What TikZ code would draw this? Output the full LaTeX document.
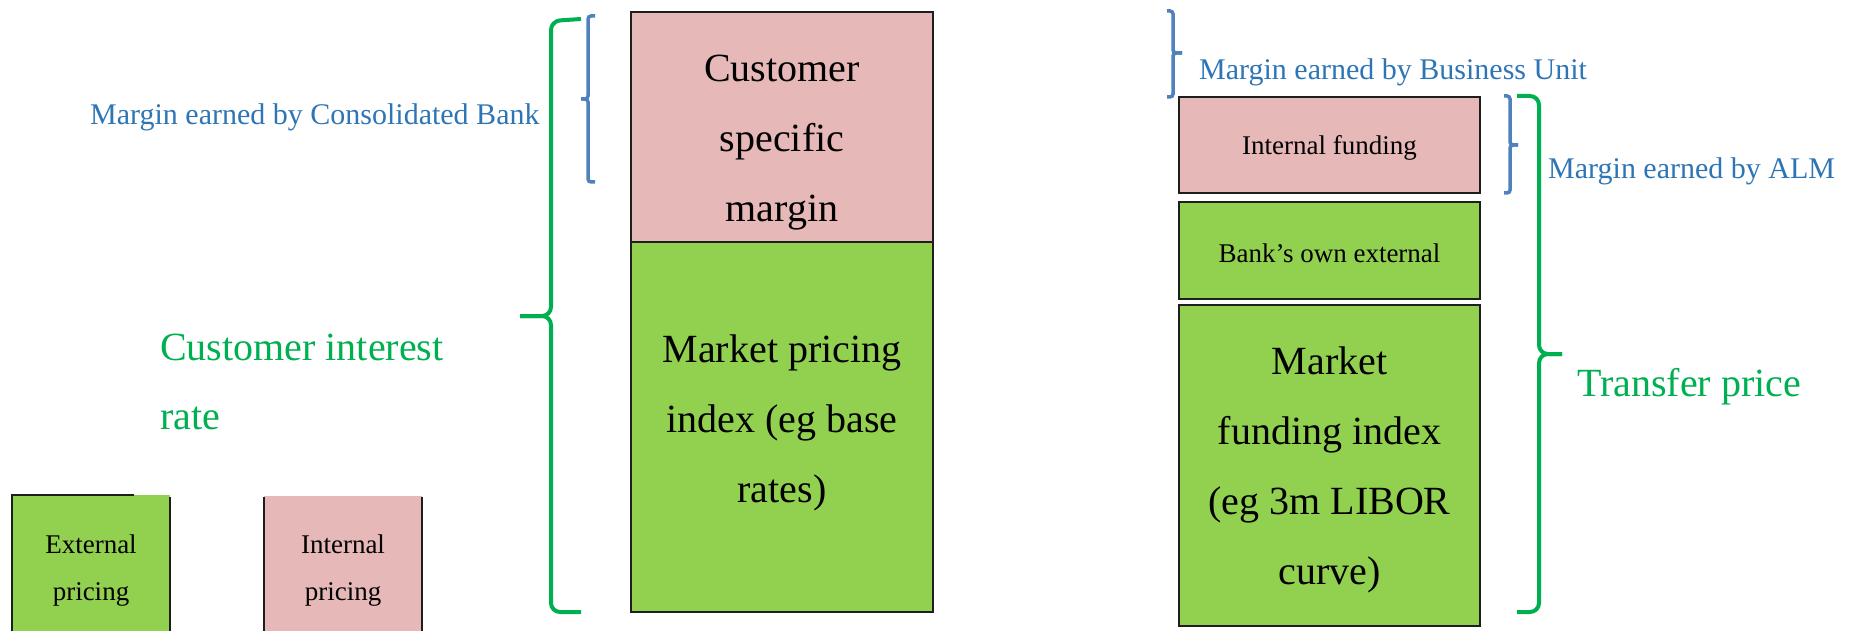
\documentclass[tikz,border=0pt]{standalone}
\usepackage{fontspec}
\setmainfont{Liberation Serif}
\definecolor{pinkf}{HTML}{E6B9B8}
\definecolor{greenf}{HTML}{92D050}
\definecolor{bluet}{HTML}{2E75B6}
\definecolor{blueb}{HTML}{4F81BD}
\definecolor{greent}{HTML}{00B050}
\definecolor{edge}{HTML}{1E1E1E}
\begin{document}
\begin{tikzpicture}[x=1pt,y=-1pt,
 box/.style={draw=edge, line width=2.5pt, inner sep=0pt, outer sep=0pt, anchor=north west},
 bigtxt/.style={font=\fontsize{40}{70}\selectfont, align=center, anchor=base, inner sep=0pt},
 smalltxt/.style={font=\fontsize{27}{47}\selectfont, align=center, anchor=base, inner sep=0pt},
 lbl/.style={font=\fontsize{30}{36}\selectfont, text=bluet, anchor=base west, inner sep=0pt},
 glbl/.style={font=\fontsize{40}{69}\selectfont, text=greent, anchor=base west, inner sep=0pt, align=left},
 gbrace/.style={draw=greent, line width=4pt, rounded corners=9pt},
 bbrace/.style={draw=blueb, line width=3.5pt, rounded corners=3pt},
 edgeline/.style={draw=edge, line width=2.5pt}]
\useasboundingbox (0,0) rectangle (1852,631);
\clip (0,0) rectangle (1852,631);

% main customer column
\node[box, fill=pinkf, minimum width=302pt, minimum height=230pt] (csm) at (631,12) {};
\node[box, fill=greenf, minimum width=302pt, minimum height=370pt] (mpi) at (631,242) {};
% multi-line nodes: base anchor = baseline of the last line
\node[bigtxt] (tcsm) at (782,222) {Customer\\specific\\margin};
\node[bigtxt] (tmpi) at (782,502) {Market pricing\\index (eg base\\rates)};

% transfer price column
\node[box, fill=pinkf, minimum width=301pt, minimum height=96pt] (intf) at (1179,97) {};
\node[box, fill=greenf, minimum width=301pt, minimum height=97pt] (bank) at (1179,202) {};
\node[box, fill=greenf, minimum width=301pt, minimum height=321pt] (mfi) at (1179,305) {};
\node[smalltxt] (tintf) at (1329.5,155) {Internal funding};
\node[smalltxt] (tbank) at (1329.5,262) {Bank’s own external};
\node[bigtxt] (tmfi) at (1329.5,584) {Market\\funding index\\(eg 3m LIBOR\\curve)};

% legend boxes
\fill[greenf] (12,495) rectangle (170,640);
\draw[edgeline] (12,640) -- (12,495) -- (134,495);
\draw[edgeline] (170,497) -- (170,640);
\fill[pinkf] (264,496) rectangle (422,640);
\draw[edgeline] (264,497) -- (264,640);
\draw[edgeline] (422,497) -- (422,640);
\node[smalltxt] (text) at (91,600) {External\\pricing};
\node[smalltxt] (tint) at (343,600) {Internal\\pricing};

% labels
\node[lbl] (lcons) at (90,125) {Margin earned by Consolidated Bank};
\node[lbl] (lbu) at (1199,80) {Margin earned by Business Unit};
\node[lbl] (lalm) at (1548,179) {Margin earned by ALM};
\node[glbl] (lcir) at (160,429) {Customer interest\\rate};
\node[glbl] (ltp) at (1577,396) {Transfer price};

% braces
\draw[gbrace] (581,19) -- (551,21) -- (551,316) -- (520,316);
\draw[gbrace] (520,316) -- (551,316) -- (551,612) -- (581,612);
\draw[bbrace] (595,16) -- (588,16) -- (588,99) -- (581,99);
\draw[bbrace] (581,99) -- (588,99) -- (588,182) -- (595,182);
\draw[bbrace] (1167,11) -- (1173,11) -- (1173,53) -- (1182,53);
\draw[bbrace] (1182,53) -- (1173,53) -- (1173,97) -- (1167,97);
\draw[bbrace] (1504,96) -- (1510,96) -- (1510,145) -- (1518,145);
\draw[bbrace] (1518,145) -- (1510,145) -- (1510,193) -- (1504,193);
\draw[gbrace] (1517,96) -- (1539,96) -- (1539,354) -- (1562,354);
\draw[gbrace] (1562,354) -- (1539,354) -- (1539,612) -- (1517,612);
\end{tikzpicture}
\end{document}
